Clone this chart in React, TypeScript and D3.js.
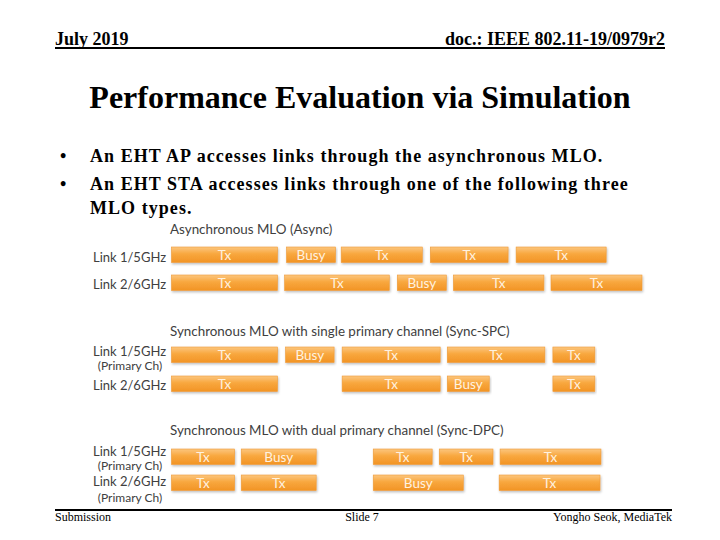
import React from "react";
import * as d3 from "d3";

// ---- data ----
const headerLeft = "July 2019";
const headerRight = "doc.: IEEE 802.11-19/0979r2";
const slideTitle = "Performance Evaluation via Simulation";
const bullets = [
  ["An EHT AP accesses links through the asynchronous MLO."],
  ["An EHT STA accesses links through one of the following three", "MLO types."],
];
const footerLeft = "Submission";
const footerCenter = "Slide 7";
const footerRight = "Yongho Seok, MediaTek";

const scenarioTitles = [
  "Asynchronous MLO (Async)",
  "Synchronous MLO with single primary channel (Sync-SPC)",
  "Synchronous MLO with dual primary channel (Sync-DPC)",
];

// link labels per scenario: [label, sublabel]
const asyncLabels = [["Link 1/5GHz", ""], ["Link 2/6GHz", ""]];
const spcLabels = [["Link 1/5GHz", "(Primary Ch)"], ["Link 2/6GHz", ""]];
const dpcLabels = [["Link 1/5GHz", "(Primary Ch)"], ["Link 2/6GHz", "(Primary Ch)"]];

// segments: [start, end, kind] in time units 0..100
type Seg = [number, number, string];
const asyncLink1: Seg[] = [[0.2, 22.7, "Tx"], [24.6, 35, "Busy"], [36.2, 53.4, "Tx"], [55.1, 71.6, "Tx"], [73.3, 92.4, "Tx"]];
const asyncLink2: Seg[] = [[0.2, 22.7, "Tx"], [24.2, 46.4, "Tx"], [48.1, 58.5, "Busy"], [60, 79.2, "Tx"], [80.7, 100, "Tx"]];
const spcLink1: Seg[] = [[0.2, 22.7, "Tx"], [24.4, 34.7, "Busy"], [36.4, 57.2, "Tx"], [58.7, 79.4, "Tx"], [81.1, 90, "Tx"]];
const spcLink2: Seg[] = [[0.2, 22.7, "Tx"], [36.4, 57.2, "Tx"], [58.7, 67.6, "Busy"], [81.1, 90, "Tx"]];
const dpcLink1: Seg[] = [[0.2, 13.6, "Tx"], [15, 30.9, "Busy"], [43, 55.5, "Tx"], [57, 68.4, "Tx"], [69.9, 91.3, "Tx"]];
const dpcLink2: Seg[] = [[0.2, 13.6, "Tx"], [15, 30.9, "Tx"], [43, 62.1, "Busy"], [69.7, 91.1, "Tx"]];

const scenarios = [
  { title: scenarioTitles[0], labels: asyncLabels, links: [asyncLink1, asyncLink2] },
  { title: scenarioTitles[1], labels: spcLabels, links: [spcLink1, spcLink2] },
  { title: scenarioTitles[2], labels: dpcLabels, links: [dpcLink1, dpcLink2] },
];

// ---- layout ----
const W = 720, H = 540;
const serif = "'Liberation Serif', 'Times New Roman', serif";
const sans = "Lato, 'Open Sans', sans-serif";
const titleY = [234, 336, 435];
const barTop = [[247, 275], [347, 376], [449, 475]];
const labelLines = [
  [[261.5, null], [289, null]],
  [[356, 369.5], [390, null]],
  [[456, 469.5], [486, 502]],
];
const BAR_H = 15.5;

export default function App() {
  const x = d3.scaleLinear().domain([0, 100]).range([170.5, 642]);
  return (
    <svg width={W} height={H} style={{ position: "absolute", left: 0, top: 0, background: "#fff" }}>
      <defs>
        <linearGradient id="og" x1="0" y1="0" x2="0" y2="1">
          <stop offset="0%" stopColor="#FCC67E" />
          <stop offset="45%" stopColor="#F8A73E" />
          <stop offset="100%" stopColor="#F29424" />
        </linearGradient>
        <filter id="sh" x="-5%" y="-20%" width="110%" height="160%">
          <feDropShadow dx="0.8" dy="1.5" stdDeviation="1" floodColor="#000" floodOpacity="0.25" />
        </filter>
      </defs>
      {/* header */}
      <text x={55} y={45} fontFamily={serif} fontWeight="bold" fontSize={18} fill="#000">{headerLeft}</text>
      <text x={665} y={45} fontFamily={serif} fontWeight="bold" fontSize={18} fill="#000" textAnchor="end">{headerRight}</text>
      <line x1={55} x2={665} y1={48} y2={48} stroke="#000" strokeWidth={2} />
      {/* title */}
      <text x={360} y={108} fontFamily={serif} fontWeight="bold" fontSize={32} textAnchor="middle" fill="#000">{slideTitle}</text>
      {/* bullets */}
      {(() => {
        const ys = [[162], [190, 214]];
        return bullets.map((b, i) => (
          <g key={i}>
            <text x={60} y={ys[i][0]} fontFamily={serif} fontWeight="bold" fontSize={18}>•</text>
            {b.map((line, j) => (
              <text key={j} x={90} y={ys[i][j]} fontFamily={serif} fontWeight="bold" fontSize={18} letterSpacing={1.05}>{line}</text>
            ))}
          </g>
        ));
      })()}
      {/* scenarios */}
      {scenarios.map((s, si) => (
        <g key={si}>
          <text x={170} y={titleY[si]} fontFamily={sans} fontSize={13.4} fill="#404040">{s.title}</text>
          {s.labels.map((lab, li) => (
            <g key={li}>
              <text x={129.5} y={labelLines[si][li][0] as number} fontFamily={sans} fontSize={13} fill="#404040" textAnchor="middle">{lab[0]}</text>
              {lab[1] && (
                <text x={130} y={labelLines[si][li][1] as number} fontFamily={sans} fontSize={12} fill="#404040" textAnchor="middle">{lab[1]}</text>
              )}
            </g>
          ))}
          {s.links.map((segs, li) => (
            <g key={li}>
              {segs.map((sg, k) => {
                const x0 = x(sg[0]), x1 = x(sg[1]);
                const y0 = barTop[si][li];
                return (
                  <g key={k}>
                    <rect x={x0} y={y0} width={x1 - x0} height={BAR_H} fill="url(#og)" stroke="#EE9A38" strokeWidth={0.6} filter="url(#sh)" />
                    <text x={(x0 + x1) / 2} y={y0 + BAR_H / 2 + 5} fontFamily={sans} fontSize={13.5} fill="#FFF2E0" textAnchor="middle">{sg[2]}</text>
                  </g>
                );
              })}
            </g>
          ))}
        </g>
      ))}
      {/* footer */}
      <line x1={55} x2={672} y1={510} y2={510} stroke="#000" strokeWidth={2} />
      <text x={55} y={521} fontFamily={serif} fontSize={12} fill="#000">{footerLeft}</text>
      <text x={362} y={521} fontFamily={serif} fontSize={12} fill="#000" textAnchor="middle">{footerCenter}</text>
      <text x={672} y={521} fontFamily={serif} fontSize={12} fill="#000" textAnchor="end">{footerRight}</text>
    </svg>
  );
}
